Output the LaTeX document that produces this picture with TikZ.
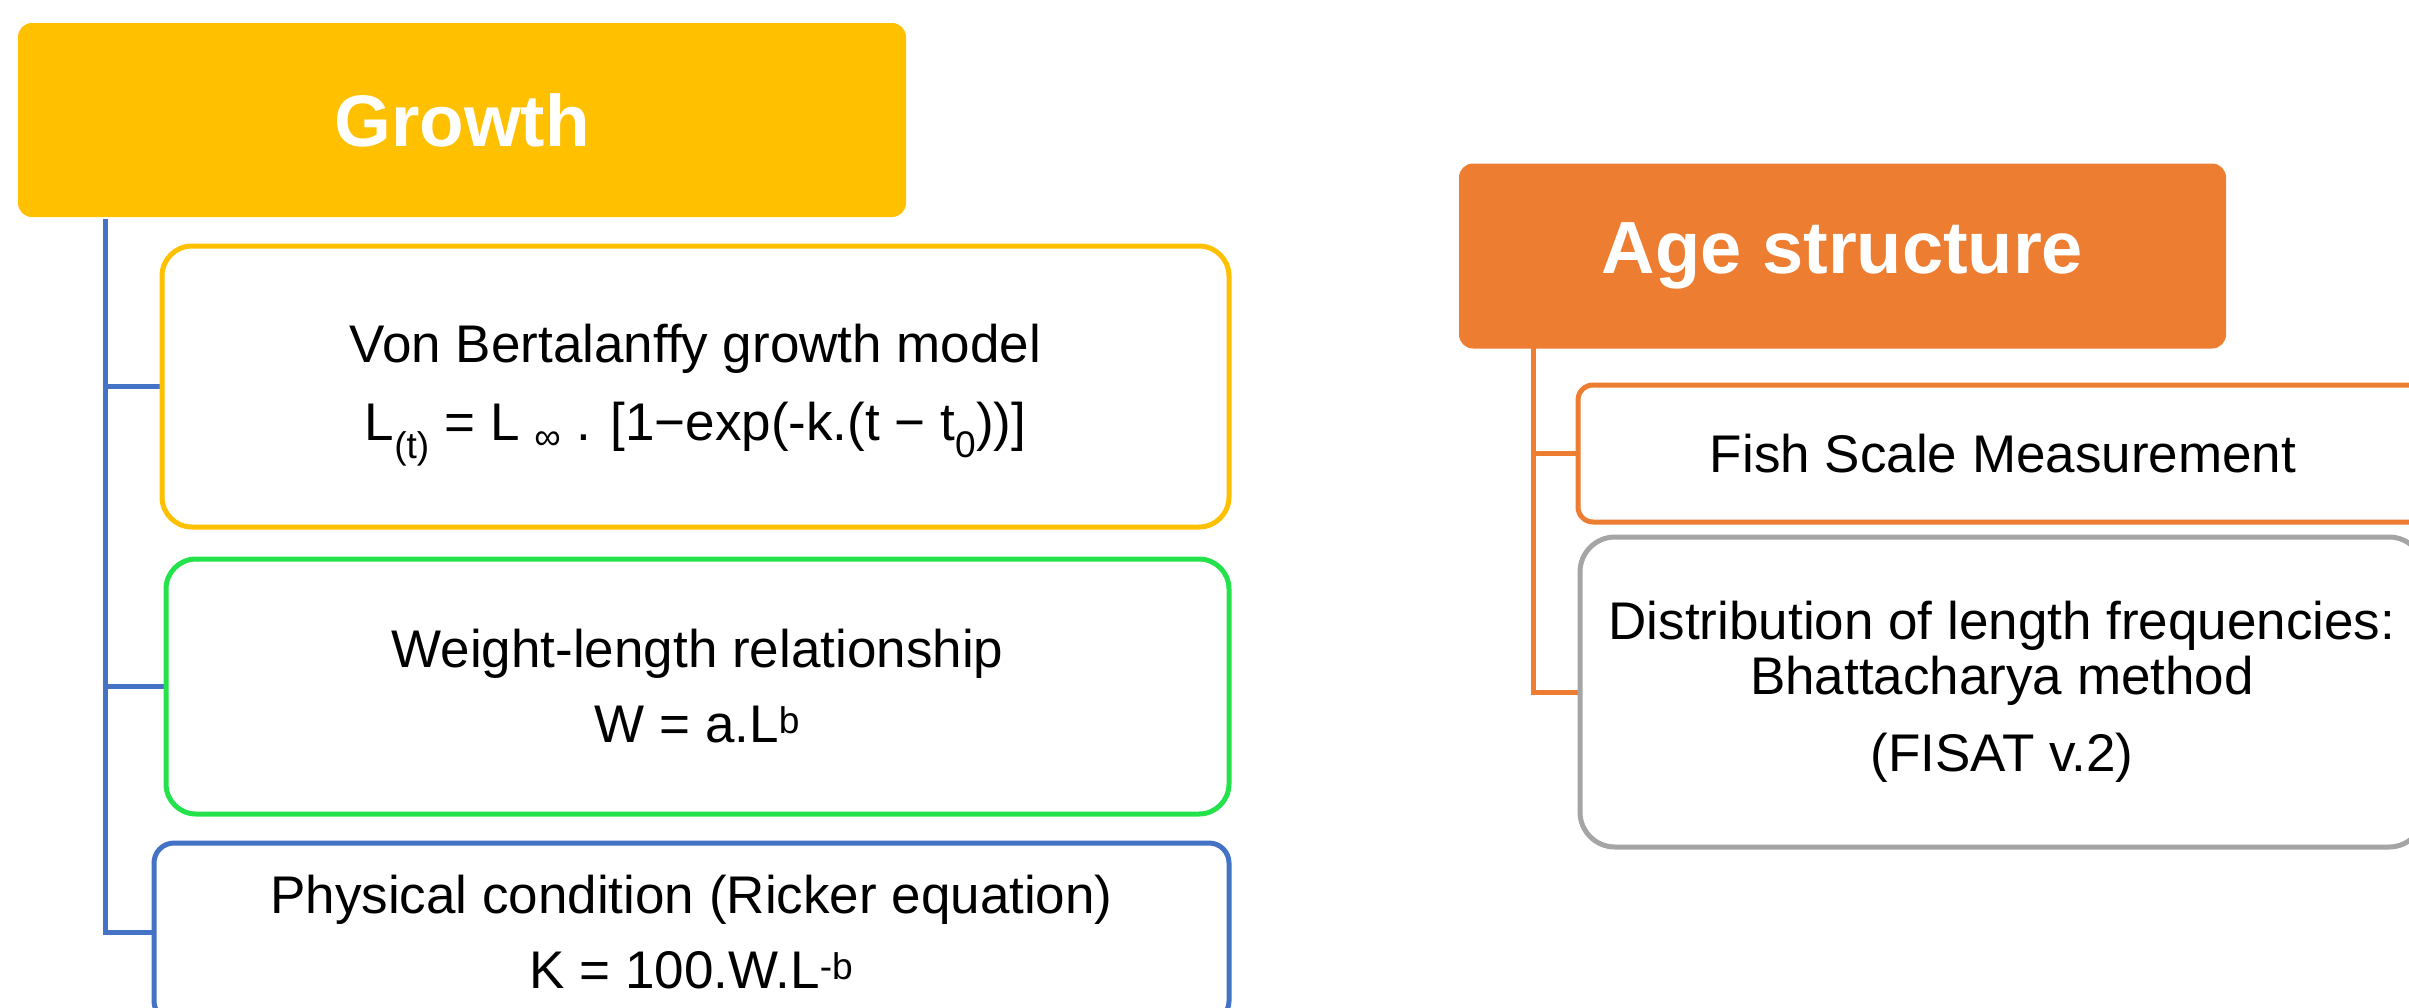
\documentclass[tikz,border=0pt]{standalone}
\usepackage{fontspec}
\setmainfont{Liberation Sans}
\definecolor{gold}{HTML}{FFC000}
\definecolor{orng}{HTML}{ED7D31}
\definecolor{blu}{HTML}{4472C4}
\definecolor{grn}{HTML}{23E24A}
\definecolor{gry}{HTML}{A5A5A5}
\tikzset{
  headbox/.style={fill=#1, draw=none, text=white, font=\fontsize{73}{80}\selectfont\bfseries, rounded corners=14pt, inner sep=0pt},
  itembox/.style={draw=#1, line width=5pt, fill=white, align=center, font=\fontsize{53}{75}\selectfont, inner sep=0pt},
  conn/.style={draw=#1, line width=5pt}
}
\begin{document}
\begin{tikzpicture}[x=1pt,y=-1pt]
\useasboundingbox (0,0) rectangle (2409,1007);
\clip (0,0) rectangle (2409,1007);
% connector origins
\coordinate (gt) at (105,219);
\coordinate (at) at (1533,347);
% headers
\node[headbox=gold, minimum width=888pt, minimum height=194pt] (growth) at (462,120) {Growth};
\node[headbox=orng, minimum width=767pt, minimum height=185pt, font=\fontsize{74}{80}\selectfont\bfseries] (age) at (1842.5,256) {Age structure};
% connectors
\draw[conn=blu] (gt) |- (162,386.5);
\draw[conn=blu] (gt) |- (166,686.5);
\draw[conn=blu] (gt) |- (154,932);
\draw[conn=orng] (at) |- (1578,453.5);
\draw[conn=orng] (at) |- (1580,692);
% left items
\node[itembox=gold, rounded corners=30pt, minimum width=1067pt, minimum height=281pt, font=\fontsize{53}{78}\selectfont] (vb) at (695.5,386.5)
  {\rule{0pt}{55pt}Von Bertalanffy growth model\\L\textsubscript{(t)} = L \textsubscript{∞} . [1−exp(-k.(t − t\textsubscript{0}))]};
\node[itembox=grn, rounded corners=30pt, minimum width=1063pt, minimum height=255pt] (wl) at (697.5,686.5)
  {Weight-length relationship\\W = a.L\textsuperscript{b}};
\node[itembox=blu, rounded corners=20pt, minimum width=1075pt, minimum height=178pt] (pc) at (691.5,932)
  {Physical condition (Ricker equation)\\K = 100.W.L\textsuperscript{-b}};
% right items
\node[itembox=orng, rounded corners=15pt, minimum width=850pt, minimum height=137pt] (fish) at (2003,453.5)
  {Fish Scale Measurement};
\node[itembox=gry, rounded corners=35pt, minimum width=844pt, minimum height=310pt, font=\fontsize{53}{55}\selectfont] (dist) at (2002,692)
  {Distribution of length frequencies:\\Bhattacharya method\\[22pt](FISAT v.2)};
\end{tikzpicture}
\end{document}
